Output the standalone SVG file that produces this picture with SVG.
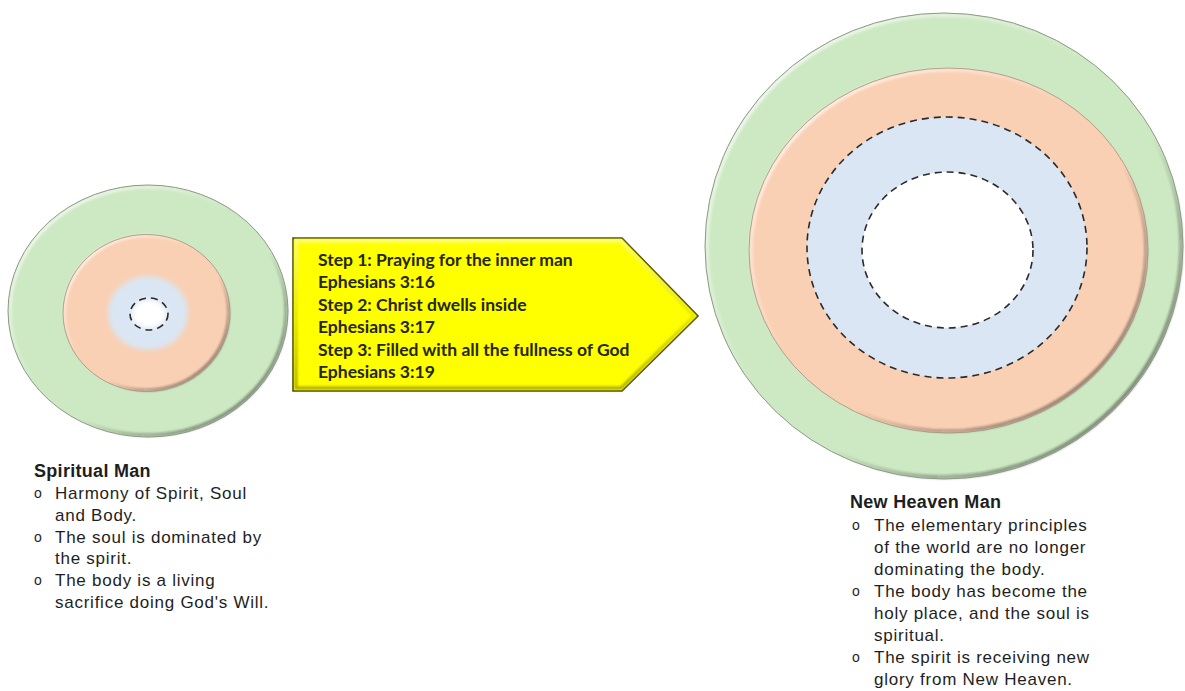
<svg xmlns="http://www.w3.org/2000/svg" width="1185" height="691" viewBox="0 0 1185 691">
  <style>
    .ring-green { fill: #cde9c3; }
    .ring-peach { fill: #f9d0b3; }
    .core-blue { fill: #dae6f3; }
    .dash { fill: none; stroke: #2a2a2a; stroke-width: 1.6; stroke-dasharray: 7 5; }
    .edge { fill: none; stroke: #8e9886; stroke-width: 1; }
    .title { font-family: "Liberation Sans", Arial, sans-serif; font-weight: bold; font-size: 18px; letter-spacing: 0.3px; fill: #1e1e1e; }
    .body { font-family: "Liberation Sans", Arial, sans-serif; font-size: 17px; letter-spacing: 0.75px; fill: #1e1e1e; }
    .bullet { font-family: "Liberation Sans", Arial, sans-serif; font-size: 14px; fill: #1e1e1e; }
    .step { font-family: Lato, "Liberation Sans", sans-serif; font-weight: bold; font-size: 17.5px; fill: #26260a; }
  </style>
  <defs>
    <!-- bevel lighting: pale highlight upper-left, grey shade lower-right -->
    <linearGradient id="bevel" x1="0" y1="0" x2="1" y2="1">
      <stop offset="0" stop-color="#ffffff" stop-opacity="0.95"/>
      <stop offset="0.45" stop-color="#ffffff" stop-opacity="0"/>
      <stop offset="0.6" stop-color="#000000" stop-opacity="0"/>
      <stop offset="1" stop-color="#3d3d3d" stop-opacity="0.75"/>
    </linearGradient>
    <linearGradient id="arrowBevel" x1="0" y1="0" x2="0" y2="1">
      <stop offset="0" stop-color="#fbfb8a"/>
      <stop offset="0.5" stop-color="#e4e400"/>
      <stop offset="1" stop-color="#a9a900"/>
    </linearGradient>
    <filter id="soft" x="-30%" y="-30%" width="160%" height="160%">
      <feGaussianBlur stdDeviation="2.5"/>
    </filter>
    <filter id="shade" x="-10%" y="-10%" width="120%" height="120%">
      <feGaussianBlur stdDeviation="1.2"/>
    </filter>
  </defs>

  <!-- Spiritual Man: body, soul, spirit rings -->
  <g id="spiritual-man">
    <ellipse cx="148" cy="311" rx="140" ry="126" class="ring-green"/>
    <ellipse cx="148" cy="311" rx="138" ry="124" fill="none" stroke="url(#bevel)" stroke-width="3.5" filter="url(#shade)"/>
    <ellipse cx="148" cy="311" rx="140" ry="126" class="edge"/>
    <ellipse cx="146.5" cy="313" rx="83.5" ry="78.5" class="ring-peach"/>
    <ellipse cx="146.5" cy="313" rx="82" ry="77" fill="none" stroke="url(#bevel)" stroke-width="3" filter="url(#shade)"/>
    <ellipse cx="146.5" cy="313" rx="83.5" ry="78.5" fill="none" stroke="#a48f7e" stroke-width="0.8"/>
    <ellipse cx="148" cy="313" rx="40" ry="37" class="core-blue" filter="url(#soft)"/>
    <ellipse cx="149" cy="314" rx="17" ry="14" fill="#ffffff" filter="url(#soft)"/>
    <ellipse cx="149" cy="314" rx="19" ry="16" class="dash" stroke-dasharray="6 4"/>
  </g>

  <!-- Steps arrow leading from the Spiritual Man to the New Heaven Man -->
  <g id="connectors">
    <g id="steps-arrow">
      <polygon points="293,238 622,238 698,316 622,391 293,391" fill="#ffff00" stroke="#4e4e00" stroke-width="1.6"/>
      <polygon points="296,241 621,241 694,316 621,388 296,388" fill="none" stroke="url(#arrowBevel)" stroke-width="3" filter="url(#shade)"/>
      <text class="step" x="318" y="265.5">Step 1: Praying for the inner man</text>
      <text class="step" x="318" y="288">Ephesians 3:16</text>
      <text class="step" x="318" y="310.5">Step 2: Christ dwells inside</text>
      <text class="step" x="318" y="333">Ephesians 3:17</text>
      <text class="step" x="318" y="355.5">Step 3: Filled with all the fullness of God</text>
      <text class="step" x="318" y="378">Ephesians 3:19</text>
    </g>
  </g>

  <!-- New Heaven Man: body, soul, spirit rings -->
  <g id="new-heaven-man">
    <ellipse cx="944" cy="246" rx="239" ry="233" class="ring-green"/>
    <ellipse cx="944" cy="246" rx="237" ry="231" fill="none" stroke="url(#bevel)" stroke-width="4" filter="url(#shade)"/>
    <ellipse cx="944" cy="246" rx="239" ry="233" class="edge"/>
    <ellipse cx="948.5" cy="250.5" rx="199.5" ry="182.5" class="ring-peach"/>
    <ellipse cx="948.5" cy="250.5" rx="197.5" ry="180.5" fill="none" stroke="url(#bevel)" stroke-width="3.5" filter="url(#shade)"/>
    <ellipse cx="948.5" cy="250.5" rx="199.5" ry="182.5" fill="none" stroke="#a48f7e" stroke-width="0.8"/>
    <ellipse cx="947" cy="247.5" rx="140" ry="130.5" class="core-blue"/>
    <ellipse cx="947" cy="247.5" rx="140" ry="130.5" class="dash"/>
    <ellipse cx="947.5" cy="250" rx="85.5" ry="78" fill="#ffffff"/>
    <ellipse cx="947.5" cy="250" rx="85.5" ry="78" class="dash"/>
  </g>

  <!-- Spiritual Man notes -->
  <g id="spiritual-man-notes">
    <text class="title" x="34" y="477">Spiritual Man</text>
    <text class="bullet" x="34" y="498">o</text>
    <text class="body" x="55" y="499">Harmony of Spirit, Soul</text>
    <text class="body" x="55" y="520.8">and Body.</text>
    <text class="bullet" x="34" y="541.6">o</text>
    <text class="body" x="55" y="542.6">The soul is dominated by</text>
    <text class="body" x="55" y="564.4">the spirit.</text>
    <text class="bullet" x="34" y="585.2">o</text>
    <text class="body" x="55" y="586.2">The body is a living</text>
    <text class="body" x="55" y="608">sacrifice doing God's Will.</text>
  </g>

  <!-- New Heaven Man notes -->
  <g id="new-heaven-man-notes">
    <text class="title" x="850" y="508">New Heaven Man</text>
    <text class="bullet" x="852" y="530">o</text>
    <text class="body" x="874" y="531">The elementary principles</text>
    <text class="body" x="874" y="553">of the world are no longer</text>
    <text class="body" x="874" y="575">dominating the body.</text>
    <text class="bullet" x="852" y="596">o</text>
    <text class="body" x="874" y="597">The body has become the</text>
    <text class="body" x="874" y="619">holy place, and the soul is</text>
    <text class="body" x="874" y="641">spiritual.</text>
    <text class="bullet" x="852" y="662">o</text>
    <text class="body" x="874" y="663">The spirit is receiving new</text>
    <text class="body" x="874" y="685">glory from New Heaven.</text>
  </g>
</svg>
